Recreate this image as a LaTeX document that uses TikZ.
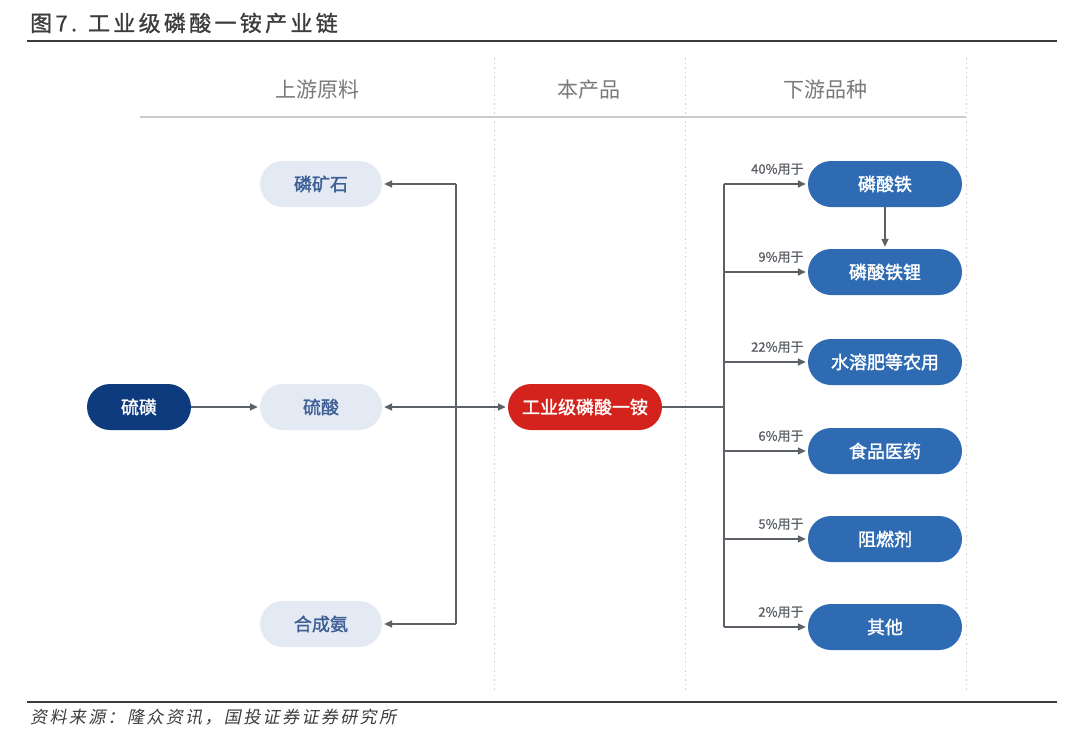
\documentclass[tikz,border=0pt]{standalone}
\usepackage{fontspec}
\setmainfont{Noto Sans CJK SC}
\newfontfamily\cjk{Noto Sans CJK SC}
\newfontfamily\cjkm[FakeBold=0.8]{Noto Sans CJK SC}
\newfontfamily\cjkb[FakeBold=1.6]{Noto Sans CJK SC}
\newfontfamily\cjktitle[LetterSpace=15,FakeBold=1]{Noto Sans CJK SC}
\newfontfamily\cjksrc[FakeSlant=0.2,LetterSpace=14]{Noto Sans CJK SC}
\usetikzlibrary{arrows.meta,calc}
\definecolor{navy}{HTML}{0E3A7E}
\definecolor{pale}{HTML}{E4EAF3}
\definecolor{paletext}{HTML}{3E5F96}
\definecolor{prodred}{HTML}{D3231C}
\definecolor{downblue}{HTML}{2F6BB3}
\definecolor{hdrgray}{HTML}{7A7A7A}
\definecolor{labgray}{HTML}{5A5E64}
\definecolor{linegray}{HTML}{5C6168}
\definecolor{rulegray}{HTML}{3C3C3C}
\tikzset{
  pill/.style={rectangle, rounded corners=23pt, minimum height=46pt, inner sep=0pt, font=\cjkb\fontsize{18}{20}\selectfont},
  srcbox/.style={pill, fill=navy, text=white, minimum width=104pt},
  upbox/.style={pill, fill=pale, text=paletext, minimum width=122pt},
  prodbox/.style={pill, fill=prodred, text=white, minimum width=154pt},
  downbox/.style={pill, fill=downblue, text=white, minimum width=154pt},
  conn/.style={draw=linegray, line width=1.5pt},
  tip/.tip={Triangle[length=8pt,width=7pt]},
  arr/.style={conn, -tip, shorten >=2pt},
  lab/.style={font=\cjkm\fontsize{13}{15}\selectfont, text=labgray, inner sep=0pt, anchor=south east},
  hdr/.style={font=\cjk\fontsize{21}{24}\selectfont, text=hdrgray},
  colline/.style={draw=gray!35, line width=0.8pt, dash pattern=on 1.5pt off 3pt}
}
\begin{document}
\begin{tikzpicture}[x=1pt,y=-1pt]
\useasboundingbox (0,0) rectangle (1080,747);
\fill[white] (0,0) rectangle (1080,747);

% title and rules
\node[anchor=west, inner sep=0pt, text=rulegray, font=\cjktitle\fontsize{22}{24}\selectfont] (title) at (30,23) {图7. 工业级磷酸一铵产业链};
\draw[rulegray, line width=1.4pt] (27,41) -- (1057,41);
\draw[rulegray, line width=1.4pt] (27,702) -- (1057,702);
\node[anchor=west, inner sep=0pt, text=rulegray, font=\cjksrc\fontsize{17}{19}\selectfont] (source) at (30,717) {资料来源：隆众资讯，国投证券证券研究所};

% column guides
\draw[colline] (494,58) -- (494,690);
\draw[colline] (685,58) -- (685,690);
\draw[colline] (966,58) -- (966,690);
\draw[draw=gray!40, line width=2pt] (140,117) -- (966,117);

% headers
\node[hdr] (h1) at (317,90) {上游原料};
\node[hdr] (h2) at (589,90) {本产品};
\node[hdr] (h3) at (825,90) {下游品种};

% nodes
\node[srcbox] (lh) at (139,407) {硫磺};
\node[upbox] (lks) at (321,184) {磷矿石};
\node[upbox] (ls) at (321,407) {硫酸};
\node[upbox] (hca) at (321,624) {合成氨};
\node[prodbox] (p) at (585,407) {工业级磷酸一铵};
\node[downbox] (d1) at (885,184) {磷酸铁};
\node[downbox] (d2) at (885,272) {磷酸铁锂};
\node[downbox] (d3) at (885,362) {水溶肥等农用};
\node[downbox] (d4) at (885,451) {食品医药};
\node[downbox] (d5) at (885,539) {阻燃剂};
\node[downbox] (d6) at (885,627) {其他};

% upstream connectors
\coordinate (ut) at (456,184);
\coordinate (ub) at (456,624);
\draw[conn] (ut) -- (ub);
\draw[arr] (ut) -- (lks.east);
\draw[arr] (ub) -- (hca.east);
\draw[conn, tip-tip, shorten >=2pt, shorten <=2pt] (ls.east) -- (p.west);
\draw[arr] (lh.east) -- (ls.west);

% downstream connectors
\coordinate (rj) at (724,407);
\coordinate (rt) at (724,184);
\coordinate (rb) at (724,627);
\draw[conn] (p.east) -- (rj);
\draw[conn] (rt) -- (rb);
\foreach \n/\t in {d1/40\%用于, d2/9\%用于, d3/22\%用于, d4/6\%用于, d5/5\%用于, d6/2\%用于}{
  \draw[arr] (rt |- \n.west) -- (\n.west);
  \node[lab] (lab\n) at ($(\n.west)+(-4,-9)$) {\t};
}
\draw[arr] (d1.south) -- (d2.north);
\end{tikzpicture}
\end{document}
